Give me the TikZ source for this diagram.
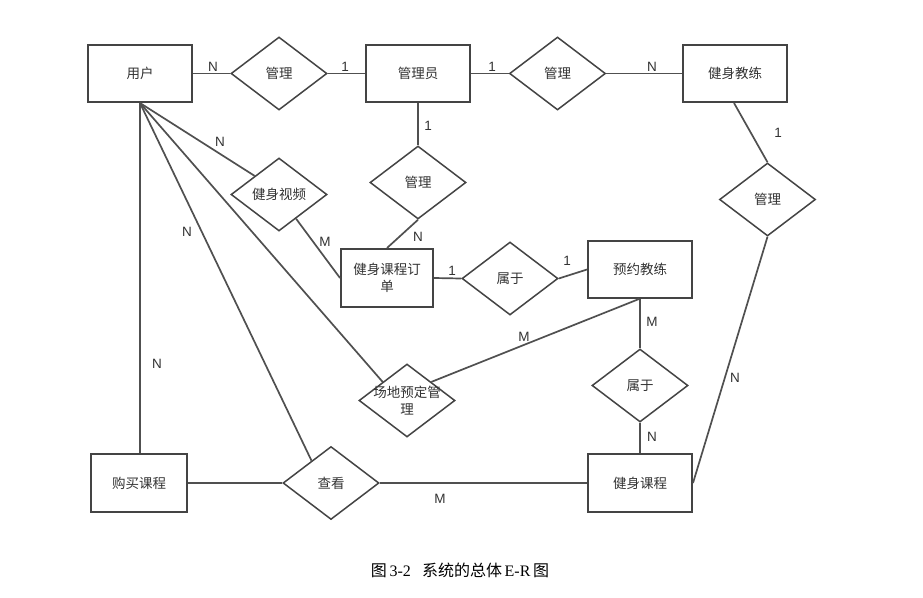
\documentclass[tikz,border=0pt]{standalone}
\usepackage{fontspec}
\setmainfont{Liberation Sans}
\newfontfamily\cjk{Noto Sans CJK SC}
\newfontfamily\capserif{Liberation Serif}
\usetikzlibrary{shapes.geometric,calc}
\definecolor{edgec}{HTML}{505050}
\definecolor{boxc}{HTML}{444444}
\definecolor{txtc}{HTML}{333333}
\tikzset{
  ent/.style={draw=boxc, line width=2pt, rectangle, minimum width=104pt, minimum height=57pt,
    inner sep=2pt, align=center, text=txtc, font=\cjk\fontsize{13.5}{17}\selectfont},
  rel/.style={draw=boxc, line width=1.5pt, diamond, minimum width=96pt, minimum height=73pt,
    aspect=1.315, inner sep=0pt},
  reltxt/.style={text=txtc, align=center, font=\cjk\fontsize{13.5}{17}\selectfont},
  conn/.style={draw=edgec, line width=1.7pt},
  card/.style={text=txtc, font=\fontsize{13.5}{15}\selectfont, inner sep=0pt},
}
\begin{document}
\begin{tikzpicture}[x=1pt,y=-1pt]
\useasboundingbox[fill=white] (0,0) rectangle (923,597);
% entities
\node[ent] (user) at (140,73.5) {用户};
\node[ent] (adm) at (418,73.5) {管理员};
\node[ent] (coach) at (735,73.5) {健身教练};
\node[ent, minimum width=92pt, minimum height=58pt] (ord) at (387,278) {健身课程订\\单};
\node[ent] (book) at (640,269.5) {预约教练};
\node[ent, minimum width=96pt, minimum height=58pt] (buy) at (139,483) {购买课程};
\node[ent, minimum height=58pt] (course) at (640,483) {健身课程};
% relationships
\node[rel, label={[reltxt]center:管理}] (r1) at (279,73.5) {};
\node[rel, label={[reltxt]center:管理}] (r2) at (557.5,73.5) {};
\node[rel, label={[reltxt]center:管理}] (r3) at (767.5,199.5) {};
\node[rel, label={[reltxt]center:管理}] (r4) at (418,182.5) {};
\node[rel, label={[reltxt]center:健身视频}] (vid) at (279,194.5) {};
\node[rel, label={[reltxt]center:属于}] (bel1) at (510,278.5) {};
\node[rel, label={[reltxt]center:场地预定管\\理}] (site) at (407,400.5) {};
\node[rel, label={[reltxt]center:属于}] (bel2) at (640,385.5) {};
\node[rel, label={[reltxt]center:查看}] (chk) at (331,483) {};
% connectors
\draw[conn] (user.east) -- (r1.west);
\draw[conn] (r1.east) -- (adm.west);
\draw[conn] (adm.east) -- (r2.west);
\draw[conn] (r2.east) -- (coach.west);
\draw[conn] ($(coach.south)+(-1,0)$) -- (r3.north);
\draw[conn] (r3.south) -- (course.east);
\draw[conn] (adm.south) -- (r4.north);
\draw[conn] (r4.south) -- (ord.north);
\draw[conn] (user.south) -- ($(vid.west)!0.5!(vid.north)$);
\draw[conn] ($(vid.south)!0.35!(vid.east)$) -- (ord.west);
\draw[conn] (user.south) -- ($(site.west)!0.5!(site.north)$);
\draw[conn] (user.south) -- ($(chk.west)!0.6!(chk.north)$);
\draw[conn] (user.south) -- (buy.north -| user.south);
\draw[conn] (buy.east) -- (chk.west);
\draw[conn] (chk.east) -- (course.west);
\draw[conn] (ord.east) -- (bel1.west);
\draw[conn] (bel1.east) -- (book.west);
\draw[conn] ($(book.south)+(-1,0)$) -- ($(site.north)!0.5!(site.east)$);
\draw[conn] (book.south) -- (bel2.north);
\draw[conn] (bel2.south) -- (course.north);
% cardinalities
\node[card] (c1) at (213,67) {N};
\node[card] (c2) at (345,67) {1};
\node[card] (c3) at (492,67) {1};
\node[card] (c4) at (652,67) {N};
\node[card] (c5) at (778,133) {1};
\node[card] (c6) at (735,378) {N};
\node[card] (c7) at (428,126) {1};
\node[card] (c8) at (418,237) {N};
\node[card] (c9) at (220,142) {N};
\node[card] (c10) at (325,242) {M};
\node[card] (c11) at (187,232) {N};
\node[card] (c12) at (157,364) {N};
\node[card] (c13) at (452,271) {1};
\node[card] (c14) at (567,261) {1};
\node[card] (c15) at (524,337) {M};
\node[card] (c16) at (652,322) {M};
\node[card] (c17) at (652,437) {N};
\node[card] (c18) at (440,499) {M};
% caption
\node[inner sep=0pt, font=\fontsize{16}{19}\selectfont] (cap) at (460,570)
  {{\cjk 图}\,{\capserif 3-2}\hspace{0.7em}{\cjk 系统的总体}\,{\capserif E-R}\,{\cjk 图}};
\end{tikzpicture}
\end{document}
